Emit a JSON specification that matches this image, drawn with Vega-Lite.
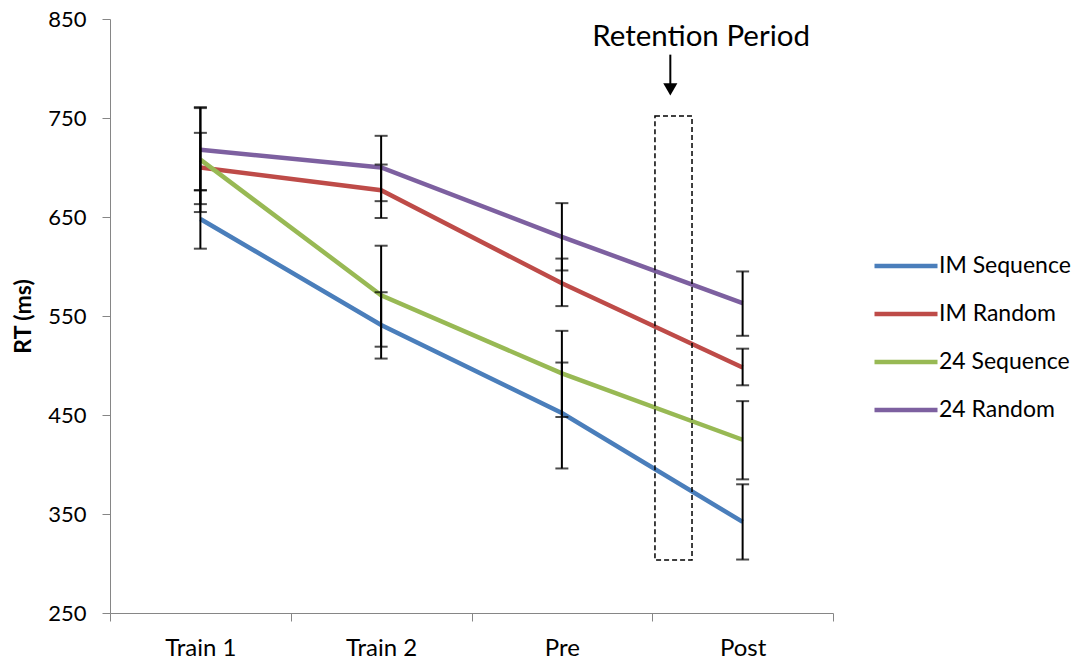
{
  "$schema": "https://vega.github.io/schema/vega-lite/v6.json",
  "width": 723,
  "height": 594,
  "autosize": {"type": "none"},
  "padding": {"left": 110, "top": 19, "right": 251, "bottom": 49},
  "background": "white",
  "config": {
    "font": "Lato",
    "view": {"stroke": null},
    "axis": {"labelFont": "Lato", "titleFont": "Lato", "labelColor": "#000000", "titleColor": "#000000", "domainColor": "#868686", "tickColor": "#868686", "grid": false}
  },
  "datasets": {
    "rt": [
      {"stage": "Train 1", "group": "IM Sequence", "mean": 648, "lo": 618, "hi": 677},
      {"stage": "Train 1", "group": "IM Random", "mean": 700, "lo": 663, "hi": 735},
      {"stage": "Train 1", "group": "24 Sequence", "mean": 708, "lo": 655, "hi": 760},
      {"stage": "Train 1", "group": "24 Random", "mean": 718, "lo": 677, "hi": 761},
      {"stage": "Train 2", "group": "IM Sequence", "mean": 541, "lo": 507, "hi": 574},
      {"stage": "Train 2", "group": "IM Random", "mean": 677, "lo": 649, "hi": 703},
      {"stage": "Train 2", "group": "24 Sequence", "mean": 571, "lo": 519, "hi": 621},
      {"stage": "Train 2", "group": "24 Random", "mean": 700, "lo": 666, "hi": 732},
      {"stage": "Pre", "group": "IM Sequence", "mean": 452, "lo": 396, "hi": 503},
      {"stage": "Pre", "group": "IM Random", "mean": 583, "lo": 560, "hi": 608},
      {"stage": "Pre", "group": "24 Sequence", "mean": 492, "lo": 448, "hi": 535},
      {"stage": "Pre", "group": "24 Random", "mean": 630, "lo": 596, "hi": 664},
      {"stage": "Post", "group": "IM Sequence", "mean": 342, "lo": 304, "hi": 380},
      {"stage": "Post", "group": "IM Random", "mean": 498, "lo": 480, "hi": 517},
      {"stage": "Post", "group": "24 Sequence", "mean": 425, "lo": 385, "hi": 464},
      {"stage": "Post", "group": "24 Random", "mean": 563, "lo": 530, "hi": 595}
    ],
    "retention": [
      {"from": "Post", "to": "Post", "lo": 303.5, "hi": 752, "arrowTop": 814, "arrowHead": 779, "label": "Retention Period", "labelY": 832}
    ]
  },
  "encoding": {
    "x": {
      "field": "stage",
      "type": "nominal",
      "sort": ["Train 1", "Train 2", "Pre", "Post"],
      "scale": {"type": "band", "domain": ["Train 1", "Train 2", "Pre", "Post"], "paddingInner": 0, "paddingOuter": 0},
      "axis": {"title": null, "labelAngle": 0, "tickBand": "extent", "tickSize": 8, "labelPadding": 15, "labelFontSize": 24}
    }
  },
  "layer": [
    {
      "data": {"name": "rt"},
      "mark": {"type": "line", "strokeWidth": 4.5},
      "encoding": {
        "y": {
          "field": "mean",
          "type": "quantitative",
          "scale": {"domain": [250, 850], "nice": false, "zero": false},
          "axis": {"title": "RT (ms)", "titleFontSize": 23, "titleFontWeight": "bold", "values": [250, 350, 450, 550, 650, 750, 850], "tickSize": 8, "labelPadding": 16, "labelFontSize": 22, "titlePadding": 12}
        },
        "color": {
          "field": "group",
          "type": "nominal",
          "scale": {"domain": ["IM Sequence", "IM Random", "24 Sequence", "24 Random"], "range": ["#4A7EBB", "#BE4B48", "#98B954", "#7D60A0"]},
          "legend": {
            "title": null,
            "orient": "none",
            "legendX": 783,
            "legendY": 234,
            "padding": 0,
            "symbolType": "M-3,0H3",
            "symbolSize": 441,
            "symbolStrokeWidth": 4.5,
            "labelFontSize": 23,
            "labelOffset": 20,
            "rowPadding": 23,
            "labelColor": "#000000"
          }
        }
      }
    },
    {
      "data": {"name": "rt"},
      "mark": {"type": "rule", "color": "black", "strokeWidth": 2},
      "encoding": {
        "y": {"field": "lo", "type": "quantitative"},
        "y2": {"field": "hi"}
      }
    },
    {
      "data": {"name": "rt"},
      "mark": {"type": "tick", "color": "black", "size": 13, "thickness": 2},
      "encoding": {"y": {"field": "lo", "type": "quantitative"}}
    },
    {
      "data": {"name": "rt"},
      "mark": {"type": "tick", "color": "black", "size": 13, "thickness": 2},
      "encoding": {"y": {"field": "hi", "type": "quantitative"}}
    },
    {
      "data": {"name": "retention"},
      "mark": {"type": "rect", "fill": null, "stroke": "black", "strokeWidth": 1.5, "strokeDash": [5, 3]},
      "encoding": {
        "x": {"field": "from", "type": "nominal", "bandPosition": 0.015},
        "x2": {"field": "to", "bandPosition": 0.22},
        "y": {"field": "lo", "type": "quantitative"},
        "y2": {"field": "hi"}
      }
    },
    {
      "data": {"name": "retention"},
      "mark": {"type": "rule", "color": "black", "strokeWidth": 2},
      "encoding": {
        "x": {"field": "from", "type": "nominal", "bandPosition": 0.1},
        "y": {"field": "arrowTop", "type": "quantitative"},
        "y2": {"field": "arrowHead"}
      }
    },
    {
      "data": {"name": "retention"},
      "mark": {"type": "point", "shape": "triangle-down", "filled": true, "color": "black", "size": 200, "opacity": 1},
      "encoding": {
        "x": {"field": "from", "type": "nominal", "bandPosition": 0.1},
        "y": {"field": "arrowHead", "type": "quantitative"}
      }
    },
    {
      "data": {"name": "retention"},
      "mark": {"type": "text", "fontSize": 29.5, "font": "Lato", "align": "center", "baseline": "middle", "color": "black"},
      "encoding": {
        "x": {"field": "from", "type": "nominal", "bandPosition": 0.27},
        "y": {"field": "labelY", "type": "quantitative"},
        "text": {"field": "label"}
      }
    }
  ]
}
